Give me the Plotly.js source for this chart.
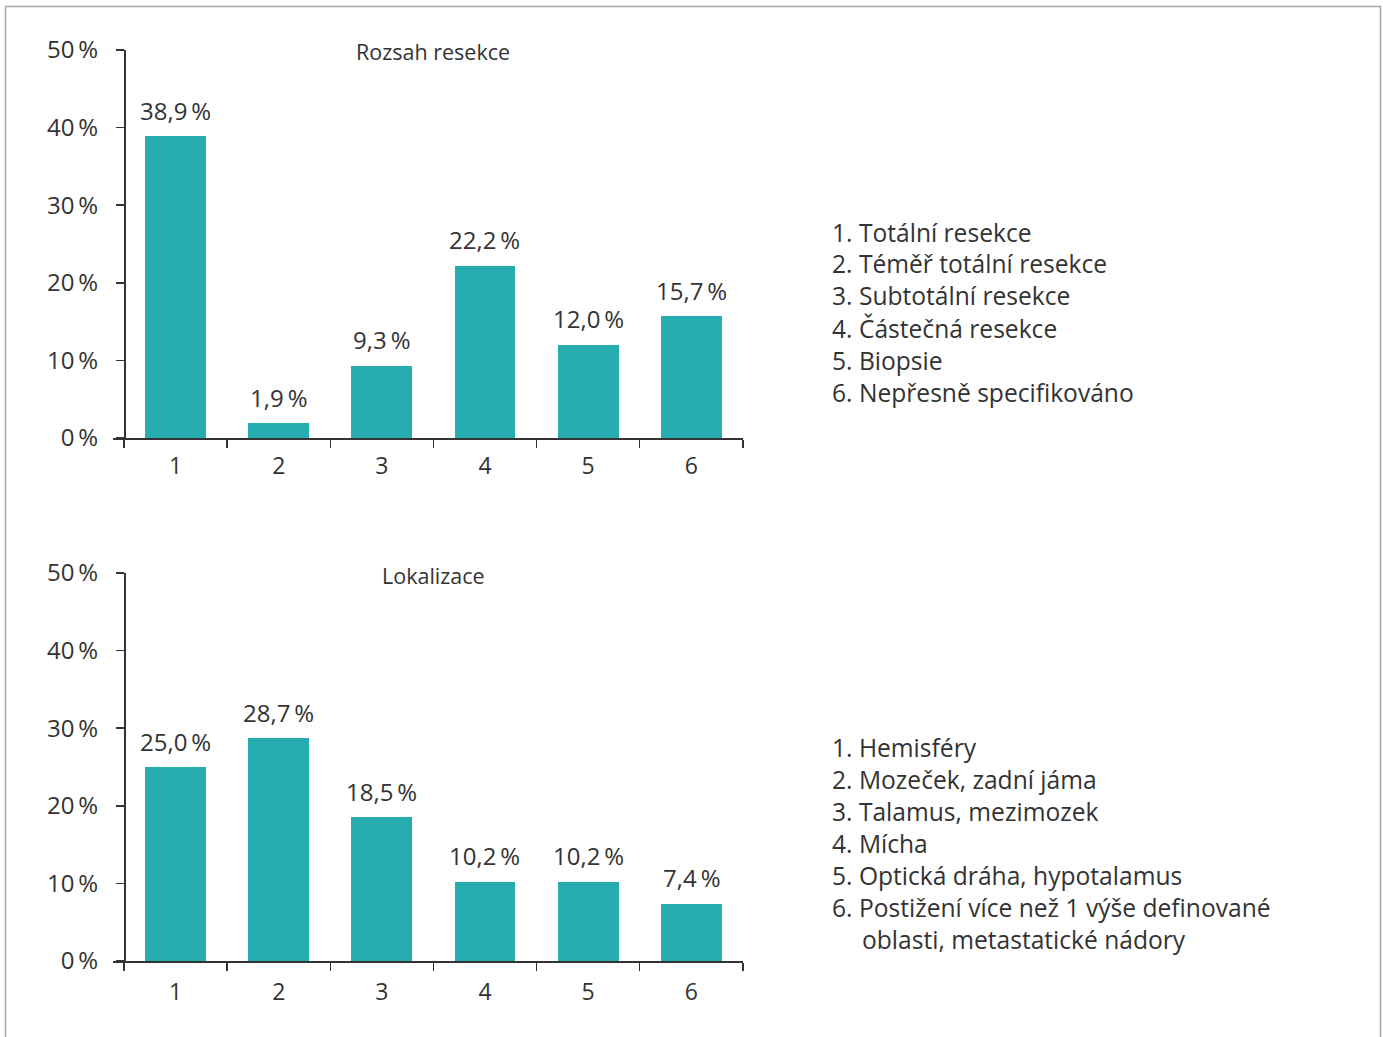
<!DOCTYPE html>
<html>
<head>
<meta charset="utf-8">
<script src="https://cdn.plot.ly/plotly-3.0.1.min.js"></script>
<style>html,body{margin:0;padding:0;background:#fff;}#chart{width:1383px;height:1037px;}</style>
</head>
<body>
<div id="chart"></div>
<script>
const categories = ["1", "2", "3", "4", "5", "6"];
const resekceValues = [38.9, 1.9, 9.3, 22.2, 12.0, 15.7];
const lokalizaceValues = [25.0, 28.7, 18.5, 10.2, 10.2, 7.4];
const yTickVals = [0, 10, 20, 30, 40, 50];
const yTickText = ["0\u2009%", "10\u2009%", "20\u2009%", "30\u2009%", "40\u2009%", "50\u2009%"];
const titleTop = "Rozsah resekce";
const titleBottom = "Lokalizace";
const legendTop = ["1. Totální resekce", "2. Téměř totální resekce", "3. Subtotální resekce", "4. Částečná resekce", "5. Biopsie", "6. Nepřesně specifikováno"];
const legendBottom = ["1. Hemisféry", "2. Mozeček, zadní jáma", "3. Talamus, mezimozek", "4. Mícha", "5. Optická dráha, hypotalamus", "6. Postižení více než 1 výše definované"];
const legendBottomCont = "oblasti, metastatické nádory";

const W = 1383, H = 1037;
const px = x => x / W;
const py = y => 1 - y / H;
const FONT = "Open Sans, Noto Sans, sans-serif";
const TXT = "#333333";
const BAR = "#27adb0";

function fmt(v) { return v.toFixed(1).replace(".", ",") + "\u2009%"; }

const traces = [
  {type: "bar", x: categories, y: resekceValues, xaxis: "x", yaxis: "y", marker: {color: BAR}, width: 0.59, hoverinfo: "none"},
  {type: "bar", x: categories, y: lokalizaceValues, xaxis: "x2", yaxis: "y2", marker: {color: BAR}, width: 0.59, hoverinfo: "none"}
];

const xRange = [-0.5 - 11 / 103, 5.502];
function xAxis(domainAnchor, standoff) {
  return {
    type: "category", domain: [px(113), px(743)], range: xRange, anchor: domainAnchor,
    showline: true, linecolor: TXT, linewidth: 1.5, ticks: "outside", tickson: "boundaries",
    ticklen: 8, tickwidth: 1.5, tickcolor: TXT, showgrid: false, zeroline: false,
    tickfont: {family: FONT, size: 23, color: TXT}, ticklabelstandoff: standoff, fixedrange: true
  };
}
function yAxis(top, bottom) {
  return {
    domain: [py(bottom), py(top)], range: [0, 50], anchor: "free", position: px(124),
    showline: true, linecolor: TXT, linewidth: 1.5, ticks: "outside", ticklen: 8, tickwidth: 1.5,
    tickcolor: TXT, tickvals: yTickVals, ticktext: yTickText, showgrid: false, zeroline: false,
    tickfont: {family: FONT, size: 24, color: TXT}, ticklabelstandoff: 13, fixedrange: true
  };
}

const annotations = [];
function addLabels(vals, xa, ya) {
  vals.forEach((v, i) => {
    annotations.push({x: i, y: v, xref: xa, yref: ya, text: fmt(v), showarrow: false,
      yanchor: "middle", yshift: 26, font: {family: FONT, size: 24, color: TXT}});
  });
}
addLabels(resekceValues, "x", "y");
addLabels(lokalizaceValues, "x2", "y2");

annotations.push({x: px(433), y: py(52), xref: "paper", yref: "paper", text: titleTop, showarrow: false,
  xanchor: "center", yanchor: "middle", font: {family: FONT, size: 21.5, color: TXT}});
annotations.push({x: px(433), y: py(575), xref: "paper", yref: "paper", text: titleBottom, showarrow: false,
  xanchor: "center", yanchor: "middle", font: {family: FONT, size: 21.5, color: TXT}});

const LX = 830;
legendTop.forEach((t, i) => {
  annotations.push({x: px(LX), y: py(232 + 32 * i), xref: "paper", yref: "paper", text: t, showarrow: false,
    xanchor: "left", yanchor: "middle", font: {family: FONT, size: 24.6, color: TXT}});
});
legendBottom.forEach((t, i) => {
  annotations.push({x: px(LX), y: py(747 + 32 * i), xref: "paper", yref: "paper", text: t, showarrow: false,
    xanchor: "left", yanchor: "middle", font: {family: FONT, size: 24.6, color: TXT}});
});
annotations.push({x: px(LX + 30), y: py(747 + 32 * 6), xref: "paper", yref: "paper", text: legendBottomCont, showarrow: false,
  xanchor: "left", yanchor: "middle", font: {family: FONT, size: 24.6, color: TXT}});

const layout = {
  width: W, height: H, margin: {l: 0, r: 0, t: 0, b: 0}, paper_bgcolor: "#fff", plot_bgcolor: "rgba(0,0,0,0)",
  showlegend: false, bargap: 0,
  xaxis: xAxis("y", 7), yaxis: yAxis(50, 438),
  xaxis2: xAxis("y2", 10), yaxis2: yAxis(573, 961),
  annotations: annotations,
  shapes: [{type: "rect", xref: "paper", yref: "paper", x0: px(5.5), x1: px(1380.5), y0: py(1060), y1: py(6.5),
    line: {color: "#a8a8a8", width: 1.5}, fillcolor: "rgba(0,0,0,0)", layer: "below"}]
};

Plotly.newPlot("chart", traces, layout, {displayModeBar: false, staticPlot: true});
</script>
</body>
</html>
